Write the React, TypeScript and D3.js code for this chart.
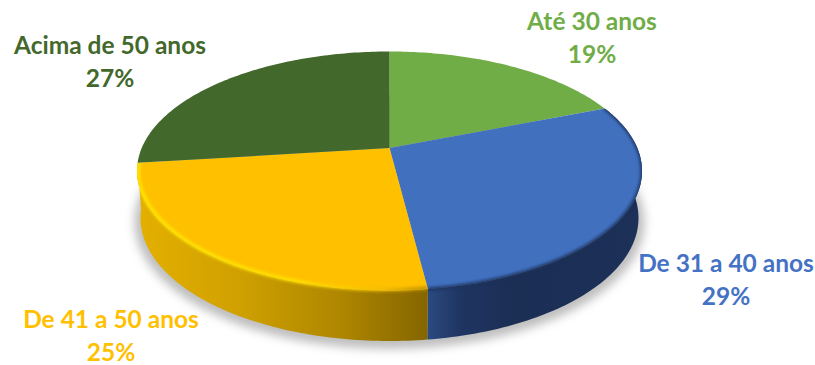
import React from "react";
import * as d3 from "d3";

const categories = ["Até 30 anos", "De 31 a 40 anos", "De 41 a 50 anos", "Acima de 50 anos"];
const shares = [19, 29, 25, 27];
const faceColors = ["#70ad47", "#4170bf", "#ffc000", "#43682b"];
const labelColors = ["#70ad47", "#4472c4", "#ffc000", "#43682b"];
const labelCenters = [[592, 30], [726, 272], [111, 328], [110, 54]];

const WIDTH = 815;
const HEIGHT = 365;
const LINE_GAP = 33;

type Ring = { cx: number; cy: number; rx: number; ry: number };
const topRing: Ring = { cx: 389.5, cy: 171, rx: 252.5, ry: 119.5 };
const baseRing: Ring = { cx: 389.5, cy: 218, rx: 249, ry: 123 };
const TILT = -0.192; // foreshortening: moves the pie's apex above the ellipse centre

// Perspective view of a point on the disc at a clockwise angle from 12 o'clock.
function project(angle: number, radius: number, ring: Ring): [number, number] {
  const u = radius * Math.sin(angle);
  const v = -radius * Math.cos(angle);
  const d = 1 + TILT * v;
  const x = (u * Math.sqrt(1 - TILT * TILT)) / d;
  const y = (v + TILT) / d;
  return [ring.cx + ring.rx * x, ring.cy + ring.ry * y];
}

const sampleAngles = (a0: number, a1: number) => {
  const n = Math.max(2, Math.ceil((a1 - a0) * 60));
  return d3.range(n + 1).map((i) => a0 + ((a1 - a0) * i) / n);
};

const line = d3.line();
const pie = d3.pie<number>().sort(null).value((d) => d);
const arcs = pie(shares);

function facePath(a0: number, a1: number) {
  const pts = sampleAngles(a0, a1).map((a) => project(a, 1, topRing));
  return line([project(0, 0, topRing), ...pts]) + "Z";
}
function rimPath(a0: number, a1: number, radius = 1) {
  return line(sampleAngles(a0, a1).map((a) => project(a, radius, topRing))) as string;
}
function sidePath(a0: number, a1: number) {
  const angles = sampleAngles(a0, a1);
  const upper = angles.map((a) => project(a, 1, topRing));
  const lower = angles.slice().reverse().map((a) => project(a, 1, baseRing));
  return line([...upper, ...lower]) + "Z";
}

const [blueArc, yellowArc] = [arcs[1], arcs[2]];
const splitX = project(blueArc.endAngle, 1, topRing)[0];

export default function App() {
  return (
    <svg
      width={WIDTH}
      height={HEIGHT}
      viewBox={`0 0 ${WIDTH} ${HEIGHT}`}
      style={{ position: "absolute", left: 0, top: 0, background: "#fff" }}
    >
      <defs>
        <filter id="shadowBlur" x="-20%" y="-20%" width="140%" height="140%">
          <feGaussianBlur stdDeviation="5" />
        </filter>
        <filter id="rimBlur" x="-10%" y="-10%" width="120%" height="120%">
          <feGaussianBlur stdDeviation="1.5" />
        </filter>
        <filter id="glowBlur" x="-10%" y="-10%" width="120%" height="120%">
          <feGaussianBlur stdDeviation="1.8" />
        </filter>
        <linearGradient id="yellowSide" gradientUnits="userSpaceOnUse" x1={140} x2={splitX} y1={0} y2={0}>
          <stop offset="0" stopColor="#e3af00" />
          <stop offset="0.35" stopColor="#cfa000" />
          <stop offset="0.7" stopColor="#ae8600" />
          <stop offset="1" stopColor="#856500" />
        </linearGradient>
        <linearGradient id="blueSide" gradientUnits="userSpaceOnUse" x1={splitX} x2={640} y1={0} y2={0}>
          <stop offset="0" stopColor="#2b4a80" />
          <stop offset="0.15" stopColor="#1f3562" />
          <stop offset="0.4" stopColor="#1b2e54" />
          <stop offset="1" stopColor="#1c3058" />
        </linearGradient>
        <linearGradient id="yellowGlow" gradientUnits="userSpaceOnUse" x1={137} x2={splitX} y1={0} y2={0}>
          <stop offset="0" stopColor="#ffe600" />
          <stop offset="0.55" stopColor="#ffe000" />
          <stop offset="0.85" stopColor="#f2bb00" />
          <stop offset="1" stopColor="#b98e00" />
        </linearGradient>
        <clipPath id="blueBody">
          <path d={facePath(blueArc.startAngle, blueArc.endAngle)} />
          <path d={sidePath(blueArc.startAngle, blueArc.endAngle)} />
        </clipPath>
        <clipPath id="yellowBody">
          <path d={facePath(yellowArc.startAngle, yellowArc.endAngle)} />
          <path d={sidePath(yellowArc.startAngle, yellowArc.endAngle)} />
        </clipPath>
      </defs>

      {/* soft ground shadow under the disc */}
      <ellipse
        cx={baseRing.cx}
        cy={baseRing.cy + 4}
        rx={baseRing.rx + 6}
        ry={baseRing.ry + 4}
        fill="#a8a8a8"
        opacity={0.75}
        filter="url(#shadowBlur)"
      />

      {/* extruded wall */}
      <path d={sidePath(blueArc.startAngle, blueArc.endAngle)} fill="url(#blueSide)" />
      <path d={sidePath(yellowArc.startAngle, yellowArc.endAngle)} fill="url(#yellowSide)" />

      {/* top faces */}
      {arcs.map((d, i) => (
        <path key={i} d={facePath(d.startAngle, d.endAngle)} fill={faceColors[i]} />
      ))}

      {/* soft bevel straddling the edge between face and wall */}
      <g clipPath="url(#blueBody)">
        <path
          d={rimPath(blueArc.startAngle, blueArc.endAngle)}
          fill="none"
          stroke="#1c3058"
          strokeWidth={3}
          filter="url(#rimBlur)"
        />
      </g>
      <g clipPath="url(#yellowBody)">
        <path
          d={rimPath(yellowArc.startAngle, yellowArc.endAngle, 0.995)}
          fill="none"
          stroke="url(#yellowGlow)"
          strokeWidth={3.5}
          filter="url(#glowBlur)"
        />
      </g>

      {/* category and share labels */}
      {categories.map((name, i) => (
        <text
          key={name}
          x={labelCenters[i][0]}
          y={labelCenters[i][1]}
          textAnchor="middle"
          fontFamily="Lato, 'Open Sans', sans-serif"
          fontWeight={700}
          fontSize={24.5}
          fill={labelColors[i]}
        >
          <tspan x={labelCenters[i][0]}>{name}</tspan>
          <tspan x={labelCenters[i][0]} dy={LINE_GAP}>{`${shares[i]}%`}</tspan>
        </text>
      ))}
    </svg>
  );
}
